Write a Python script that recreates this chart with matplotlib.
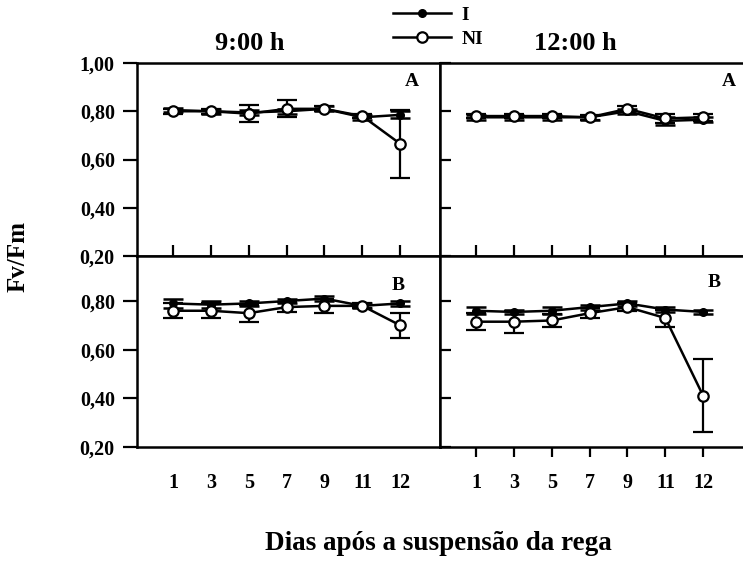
import matplotlib.pyplot as plt
import numpy as np
from matplotlib.lines import Line2D
from matplotlib.ticker import FuncFormatter

plt.rcParams['font.family'] = ['Liberation Serif', 'DejaVu Serif']
plt.rcParams['font.weight'] = 'bold'

# days after irrigation stop (categorical positions)
days = ['1', '3', '5', '7', '9', '11', '12']

# 9:00 h, panel A
i_9a = [0.805, 0.80, 0.795, 0.80, 0.81, 0.775, 0.785]
i_9a_err = [0.01, 0.01, 0.01, 0.01, 0.01, 0.01, 0.015]
n_9a = [0.80, 0.80, 0.79, 0.81, 0.81, 0.78, 0.665]
n_9a_err = [0.01, 0.01, 0.035, 0.035, 0.01, 0.01, 0.14]

# 12:00 h, panel A
i_12a = [0.775, 0.775, 0.775, 0.775, 0.80, 0.76, 0.765]
i_12a_err = [0.01, 0.01, 0.01, 0.01, 0.01, 0.015, 0.01]
n_12a = [0.78, 0.78, 0.78, 0.775, 0.81, 0.77, 0.775]
n_12a_err = [0.01, 0.01, 0.01, 0.01, 0.01, 0.02, 0.015]

# 9:00 h, panel B
i_9b = [0.79, 0.785, 0.79, 0.80, 0.81, 0.78, 0.79]
i_9b_err = [0.02, 0.015, 0.01, 0.01, 0.01, 0.01, 0.01]
n_9b = [0.76, 0.76, 0.75, 0.775, 0.78, 0.78, 0.70]
n_9b_err = [0.03, 0.03, 0.035, 0.02, 0.03, 0.01, 0.05]

# 12:00 h, panel B
i_12b = [0.76, 0.755, 0.76, 0.775, 0.79, 0.765, 0.755]
i_12b_err = [0.015, 0.01, 0.015, 0.01, 0.01, 0.01, 0.01]
n_12b = [0.715, 0.715, 0.72, 0.75, 0.775, 0.73, 0.41]
n_12b_err = [0.035, 0.045, 0.025, 0.02, 0.015, 0.035, 0.15]

x = np.arange(1, len(days) + 1)
W, H = 743, 563

fig = plt.figure(figsize=(W / 100, H / 100), dpi=100)


def px_axes(x0, y0, x1, y1):
    return fig.add_axes([x0 / W, 1 - y1 / H, (x1 - x0) / W, (y1 - y0) / H])


ax_tl = px_axes(137, 63, 440, 256)
ax_tr = px_axes(440, 63, 743, 256)
ax_bl = px_axes(137, 256, 440, 447)
ax_br = px_axes(440, 256, 743, 447)

comma = FuncFormatter(lambda v, p: f'{v:.2f}'.replace('.', ','))

i_style = dict(color='black', lw=1.8, marker='o', ms=5.5, mfc='black', mec='black')
n_style = dict(color='black', lw=1.8, marker='o', ms=7.5, mfc='white', mec='black', mew=1.6)


def draw(ax, iv, ie, nv, ne):
    kw = dict(capsize=7, capthick=1.8, elinewidth=1.6)
    ax.errorbar(x, iv, yerr=ie, **i_style, **kw)
    ax.errorbar(x, nv, yerr=ne, **n_style, **kw)
    ax.set_xlim(0.05, 8.05)
    for s in ax.spines.values():
        s.set_linewidth(1.8)


draw(ax_tl, i_9a, i_9a_err, n_9a, n_9a_err)
draw(ax_tr, i_12a, i_12a_err, n_12a, n_12a_err)
draw(ax_bl, i_9b, i_9b_err, n_9b, n_9b_err)
draw(ax_br, i_12b, i_12b_err, n_12b, n_12b_err)

ax_tl.set_ylim(0.2, 1.0)
ax_tr.set_ylim(0.2, 1.0)
ax_bl.set_ylim(0.2, 0.985)
ax_br.set_ylim(0.2, 0.985)

for ax in (ax_tl, ax_tr):
    ax.set_yticks([0.2, 0.4, 0.6, 0.8, 1.0])
for ax in (ax_bl, ax_br):
    ax.set_yticks([0.2, 0.4, 0.6, 0.8])
for ax in (ax_tl, ax_tr, ax_bl, ax_br):
    ax.set_xticks(x)
    ax.set_xticklabels(days)
    ax.yaxis.set_major_formatter(comma)
    ax.tick_params(labelsize=14.5, width=1.6)

# top panels: inward x ticks, no labels
ax_tl.tick_params(axis='x', direction='in', length=8, labelbottom=False)
ax_tr.tick_params(axis='x', direction='in', length=8, labelbottom=False)
# left panels: outward y ticks with labels
ax_tl.tick_params(axis='y', direction='out', length=10, pad=6)
ax_bl.tick_params(axis='y', direction='out', length=10, pad=6)
# right panels: inward y ticks, no labels
ax_tr.tick_params(axis='y', direction='in', length=8, labelleft=False)
ax_br.tick_params(axis='y', direction='in', length=8, labelleft=False)
# bottom x labels
ax_bl.tick_params(axis='x', length=0, pad=19)
ax_br.tick_params(axis='x', direction='out', length=7, pad=12)

ax_tr.spines['right'].set_visible(False)
ax_br.spines['right'].set_visible(False)

# panel letters
for lab, px, py in (('A', 412, 82), ('A', 729, 82), ('B', 398, 285), ('B', 714, 283)):
    fig.text(px / W, 1 - py / H, lab, ha='center', va='center', fontsize=14)

fig.text(250 / W, 1 - 43 / H, '9:00 h', ha='center', va='center', fontsize=19)
fig.text(575 / W, 1 - 43 / H, '12:00 h', ha='center', va='center', fontsize=19)
fig.text(18 / W, 1 - 257 / H, 'Fv/Fm', ha='center', va='center', rotation=90,
         fontsize=18)
fig.text(438 / W, 1 - 544 / H, 'Dias após a suspensão da rega', ha='center',
         va='center', fontsize=19.5)

handles = [Line2D([], [], **i_style), Line2D([], [], **n_style)]
fig.legend(handles, ['I', 'NI'], loc='center', bbox_to_anchor=(438 / W, 1 - 27 / H),
           frameon=False, fontsize=14, handlelength=3.0, labelspacing=0.35,
           handletextpad=0.5, borderpad=0)

fig.savefig('out.png', dpi=100)
